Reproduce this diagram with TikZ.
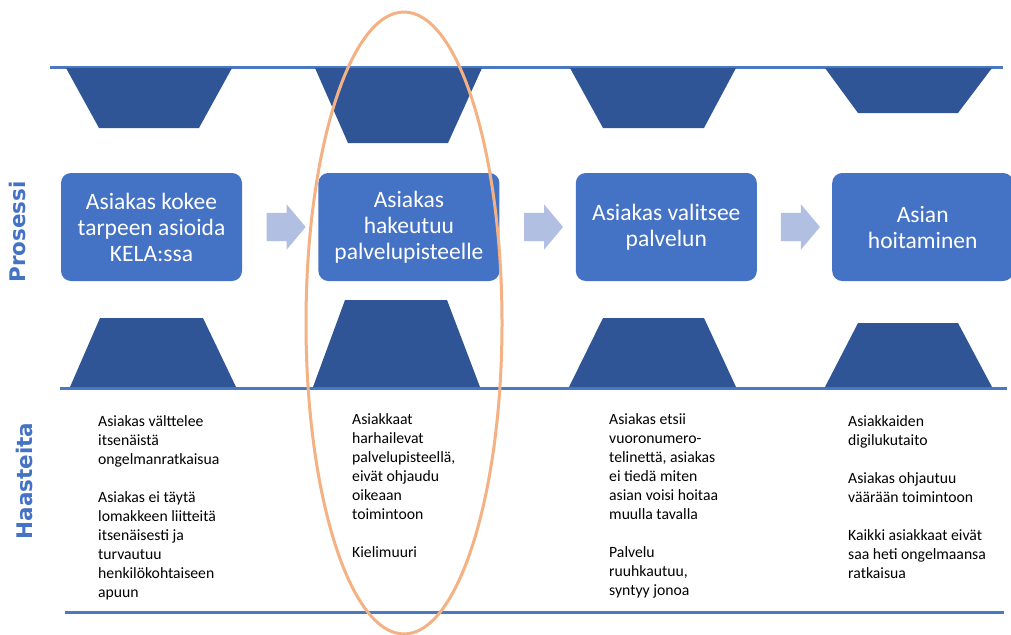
\documentclass[tikz,border=0pt]{standalone}
\usepackage{fontspec}
\setmainfont{Carlito}
\newfontfamily\sidefont{DejaVu Sans}[UprightFont={* Bold}]
\usetikzlibrary{positioning,calc,shapes.arrows}
\definecolor{stepblue}{HTML}{4472C4}
\definecolor{trapblue}{HTML}{2F5597}
\definecolor{arrowblue}{HTML}{B0BFE2}
\definecolor{lineblue}{HTML}{4A78C2}
\definecolor{ringorange}{HTML}{F4B183}

\begin{document}
\begin{tikzpicture}[
  x=1pt, y=-1pt,
  stepbox/.style={fill=stepblue, rounded corners=10pt, minimum width=181pt,
    minimum height=108pt, align=center, text=white, inner sep=0pt,
    font=\fontsize{23.5}{26}\selectfont},
  blockarrow/.style={single arrow, fill=arrowblue, minimum height=39pt,
    inner xsep=0pt, inner ysep=14pt, single arrow head extend=8.5pt,
    single arrow tip angle=100},
  trap/.style={fill=trapblue},
  note/.style={anchor=north west, align=left, inner sep=0pt,
    font=\fontsize{15.7}{19}\selectfont},
  side/.style={rotate=90, text=stepblue, inner sep=0pt,
    font=\sidefont\fontsize{21.5}{24}\selectfont},
  sepline/.style={draw=lineblue, line width=3pt},
  ring/.style={draw=ringorange, line width=3pt},
]
\useasboundingbox (0,0) rectangle (1011,634);

\draw[sepline] (50,67) -- (1003,67);
\draw[sepline] (60,388) -- (1007,388);
\draw[sepline] (65,612) -- (1004,612);

% upper funnels
\fill[trap] (66,68) -- (232,68) -- (199,128) -- (99,128) -- cycle;
\fill[trap] (315,68) -- (482,68) -- (448,143) -- (348,143) -- cycle;
\fill[trap] (570,68) -- (736,68) -- (704,128) -- (603,128) -- cycle;
\fill[trap] (825,68) -- (992,68) -- (958,113) -- (858,113) -- cycle;
% lower funnels
\fill[trap] (70,387) -- (236,387) -- (203,318) -- (100,318) -- cycle;
\fill[trap] (313,387) -- (480,387) -- (447,300) -- (345,300) -- cycle;
\fill[trap] (569,387) -- (736,387) -- (704,318) -- (603,318) -- cycle;
\fill[trap] (825,387) -- (992,387) -- (958,323) -- (858,323) -- cycle;

\node[stepbox] (b1) at (151.5,227) {Asiakas kokee\\tarpeen asioida\\KELA:ssa};
\node[stepbox, right=76pt of b1] (b2) {Asiakas\\hakeutuu\\palvelupisteelle};
\node[stepbox, right=76pt of b2] (b3) {Asiakas valitsee\\palvelun};
\node[stepbox, right=75pt of b3] (b4) {Asian\\hoitaminen};

\node[blockarrow] (a1) at ($(b1.east)!.5!(b2.west)$) {};
\node[blockarrow] (a2) at ($(b2.east)!.5!(b3.west)$) {};
\node[blockarrow] (a3) at ($(b3.east)!.5!(b4.west)$) {};

\node[side] (l1) at (17,232) {Prosessi};
\node[side] (l2) at (24,481) {Haasteita};

\node[note] (n1) at (98,415) {Asiakas välttelee\\itsenäistä\\ongelmanratkaisua\\[19pt]
  Asiakas ei täytä\\lomakkeen liitteitä\\itsenäisesti ja\\turvautuu\\henkilökohtaiseen\\apuun};
\node[note] (n2) at (352,413) {Asiakkaat\\harhailevat\\palvelupisteellä,\\eivät ohjaudu\\oikeaan\\toimintoon\\[19pt]
  Kielimuuri};
\node[note] (n3) at (609,413) {Asiakas etsii\\vuoronumero-\\telinettä, asiakas\\ei tiedä miten\\asian voisi hoitaa\\muulla tavalla\\[19pt]
  Palvelu\\ruuhkautuu,\\syntyy jonoa};
\node[note] (n4) at (848,415) {Asiakkaiden\\digilukutaito\\[19pt]
  Asiakas ohjautuu\\väärään toimintoon\\[19pt]
  Kaikki asiakkaat eivät\\saa heti ongelmaansa\\ratkaisua};

\draw[ring] (404,323) ellipse [x radius=98, y radius=311];
\end{tikzpicture}
\end{document}
